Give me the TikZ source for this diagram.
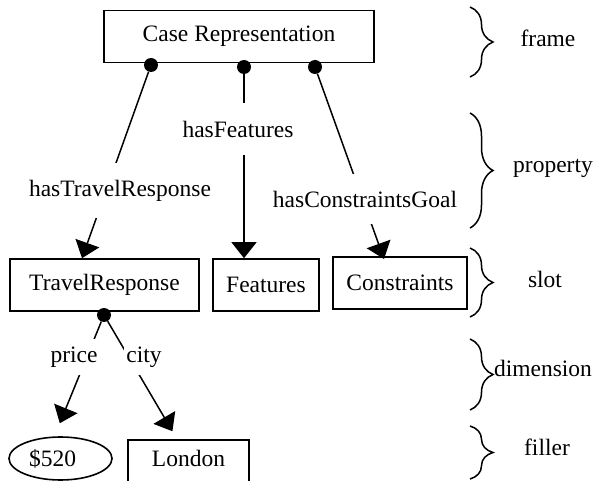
\documentclass[tikz,border=0pt]{standalone}
\usepackage{fontspec}
\setmainfont{Liberation Serif}
\usetikzlibrary{arrows.meta,shapes.geometric,decorations.pathreplacing,calc}

\begin{document}
\begin{tikzpicture}[x=1pt, y=-1pt,
    font=\fontsize{23.5}{28}\selectfont,
    box/.style={rectangle, draw, line width=1.6pt, inner sep=0pt, minimum height=52pt},
    dot/.style={circle, fill, inner sep=0pt, minimum size=14pt},
    lbl/.style={fill=white, inner xsep=2pt, inner ysep=17pt},
    dimlbl/.style={fill=white, inner xsep=2pt, inner ysep=8pt},
    link/.style={line width=1.5pt, -{Triangle[length=16pt,width=25pt]}},
    level/.style={decorate, decoration={brace, amplitude=23pt}, line width=1.5pt}]
    \useasboundingbox (0,0) rectangle (595,481);
    \clip (0,0) rectangle (595,481);

    \node (case) [box, minimum width=270pt] at (239,36.5) {Case Representation};
    \node (travel) [box, minimum width=189pt] at (104.5,285) {TravelResponse};
    \node (features) [box, minimum width=106pt] at (266,285) {Features};
    \node (constraints) [box, minimum width=134pt] at (400,283) {Constraints};
    \node (price520) [ellipse, draw, line width=1.6pt, inner sep=0pt,
        minimum width=103pt, minimum height=43pt] at (60.5,458.5) {\$520\kern16pt};
    \node (london) [box, anchor=north, minimum width=121pt, minimum height=0pt,
        inner ysep=10pt, text depth=24pt] at (188.5,439) {London};

    \node (d1) [dot] at (151,65) {};
    \node (d2) [dot] at (244,67) {};
    \node (d3) [dot] at (315,67) {};
    \node (d4) [dot] at (104,315) {};

    \draw[link] (d1) -- ([xshift=-22.5pt]travel.north);
    \draw[link] (d2) -- ([xshift=-22pt]features.north);
    \draw[link, shorten >=-3pt] (d3) -- ([xshift=-17pt]constraints.north);
    \draw[link, shorten >=14pt] (d4) -- ([xshift=-6pt]price520.north);
    \draw[link, shorten >=9pt] (d4) -- ([xshift=-11.5pt]london.north);

    \node (hasTR) [lbl] at (120,190.5) {hasTravelResponse};
    \node (hasF) [lbl, inner ysep=18pt] at (238,129) {hasFeatures};
    \node (hasCG) [lbl] at (365,199) {hasConstraintsGoal};
    \node (price) [dimlbl] at (74,357) {price};
    \node (city) [dimlbl] at (144,357) {city};

    \draw[level] (470,7) -- (470,77);
    \draw[level] (470,113) -- (470,228);
    \draw[level] (470,248) -- (470,317);
    \draw[level] (470,339) -- (470,410);
    \draw[level] (470,426) -- (470,479);

    \node (frame) at (548,38) {frame};
    \node (property) at (553,168) {property};
    \node (slot) at (545,279) {slot};
    \node (dimension) at (543,368) {dimension};
    \node (filler) at (547,447) {filler};
\end{tikzpicture}
\end{document}
